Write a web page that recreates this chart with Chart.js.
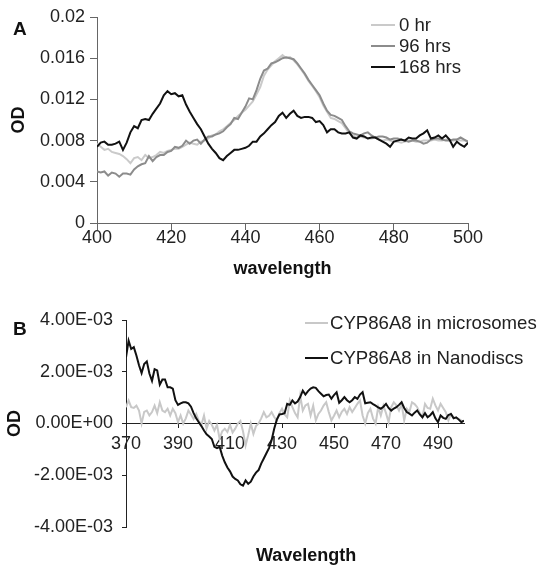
<!DOCTYPE html>
<html>
<head>
<meta charset="utf-8">
<script src="https://cdn.jsdelivr.net/npm/chart.js@4.4.1/dist/chart.umd.min.js"></script>
<style>
  body { margin: 0; background: #fff; }
  #wrap { position: relative; width: 539px; height: 566px; font-family: 'Liberation Sans', Arial, sans-serif; color: #111; overflow: hidden; }
  #wrap canvas { position: absolute; left: 0; }
  .panel { position: absolute; font-weight: bold; font-size: 19px; line-height: 20px; }
  .legend { position: absolute; font-size: 18.6px; color: #222; }
  .legend div { display: flex; align-items: center; white-space: nowrap; }
  .legend span { display: inline-block; height: 2px; }
  #legendA div { height: 21px; }
  #legendA span { width: 24px; margin-right: 4px; }
  #legendB div { height: 35px; }
  #legendB span { width: 23px; margin-right: 2px; }
  .xtitle { position: absolute; font-weight: bold; font-size: 18px; line-height: 21px; }
</style>
</head>
<body>
<div id="wrap">
  <canvas id="chartA" width="539" height="280" style="top:0"></canvas>
  <canvas id="chartB" width="539" height="286" style="top:280px"></canvas>
  <div class="panel" style="left:13px; top:19px">A</div>
  <div class="panel" style="left:13px; top:319px">B</div>
  <div class="legend" id="legendA" style="left:371px; top:14px"></div>
  <div class="legend" id="legendB" style="left:305px; top:305px"></div>
  <div class="xtitle" style="left:256px; top:545px">Wavelength</div>
</div>
<script>
// ---- panel A: OD spectra over time ----
const wavelengthsA = [
  400, 401, 402, 403, 404, 405, 406, 407, 408, 409, 410, 411, 412, 413, 414, 415, 416, 417, 418, 419,
  420, 421, 422, 423, 424, 425, 426, 427, 428, 429, 430, 431, 432, 433, 434, 435, 436, 437, 438, 439,
  440, 441, 442, 443, 444, 445, 446, 447, 448, 449, 450, 451, 452, 453, 454, 455, 456, 457, 458, 459,
  460, 461, 462, 463, 464, 465, 466, 467, 468, 469, 470, 471, 472, 473, 474, 475, 476, 477, 478, 479,
  480, 481, 482, 483, 484, 485, 486, 487, 488, 489, 490, 491, 492, 493, 494, 495, 496, 497, 498, 499, 500
];
const od0Hr = [
  .0077, .0074, .0071, .0072, .0069, .0068, .0067, .0065, .0062, .0058, .0063, .0064, .0061, .0066, .0063, .0064, .0066, .0069, .0068, .0070,
  .0071, .0072, .0072, .0074, .0076, .0078, .0077, .0076, .0079, .0080, .0082, .0085, .0086, .0089, .0091, .0094, .0097, .0100, .0104, .0107,
  .0110, .0114, .0118, .0125, .0132, .0143, .0149, .0153, .0157, .0160, .0163, .0160, .0161, .0158, .0154, .0149, .0144, .0138, .0133, .0128,
  .0122, .0114, .0108, .0102, .0101, .0099, .0097, .0092, .0087, .0085, .0083, .0084, .0083, .0082, .0082, .0083, .0081, .0080, .0081, .0080,
  .0079, .0079, .0078, .0079, .0080, .0080, .0079, .0079, .0080, .0080, .0080, .0081, .0080, .0080, .0081, .0081, .0080, .0081, .0080, .0080, .0079
];
const od96Hrs = [
  .0050, .0049, .0050, .0046, .0049, .0048, .0045, .0048, .0048, .0047, .0052, .0055, .0057, .0058, .0065, .0060, .0064, .0066, .0066, .0069,
  .0070, .0074, .0073, .0075, .0080, .0077, .0080, .0081, .0077, .0081, .0084, .0084, .0086, .0087, .0089, .0093, .0096, .0102, .0101, .0107,
  .0113, .0121, .0120, .0129, .0140, .0148, .0150, .0155, .0156, .0158, .0160, .0161, .0160, .0159, .0155, .0150, .0145, .0139, .0134, .0129,
  .0124, .0116, .0109, .0105, .0104, .0102, .0100, .0094, .0089, .0087, .0086, .0085, .0087, .0088, .0085, .0083, .0084, .0084, .0083, .0081,
  .0082, .0082, .0081, .0080, .0079, .0080, .0080, .0079, .0077, .0078, .0081, .0082, .0082, .0081, .0080, .0080, .0081, .0081, .0083, .0081, .0079
];
const od168Hrs = [
  .0074, .0078, .0079, .0076, .0076, .0077, .0079, .0071, .0078, .0088, .0094, .0092, .0100, .0101, .0100, .0106, .0111, .0116, .0124, .0128,
  .0125, .0126, .0123, .0124, .0115, .0108, .0102, .0096, .0091, .0084, .0077, .0072, .0068, .0063, .0061, .0065, .0068, .0071, .0071, .0072,
  .0073, .0075, .0079, .0079, .0084, .0087, .0091, .0095, .0098, .0104, .0107, .0102, .0106, .0109, .0104, .0102, .0103, .0103, .0102, .0098,
  .0099, .0095, .0088, .0091, .0091, .0088, .0087, .0087, .0088, .0083, .0082, .0085, .0084, .0082, .0083, .0083, .0081, .0079, .0077, .0074,
  .0079, .0080, .0081, .0080, .0083, .0082, .0082, .0085, .0087, .0090, .0082, .0083, .0085, .0082, .0085, .0081, .0074, .0079, .0076, .0074, .0078
];
const xTicksA = [400, 420, 440, 460, 480, 500];
const yTicksA = [0, 0.004, 0.008, 0.012, 0.016, 0.02];

// ---- panel B: difference spectra (values in units of 1E-03) ----
const wavelengthsB = [
  370, 371, 372, 373, 374, 375, 376, 377, 378, 379, 380, 381, 382, 383, 384, 385, 386, 387, 388, 389,
  390, 391, 392, 393, 394, 395, 396, 397, 398, 399, 400, 401, 402, 403, 404, 405, 406, 407, 408, 409,
  410, 411, 412, 413, 414, 415, 416, 417, 418, 419, 420, 421, 422, 423, 424, 425, 426, 427, 428, 429,
  430, 431, 432, 433, 434, 435, 436, 437, 438, 439, 440, 441, 442, 443, 444, 445, 446, 447, 448, 449,
  450, 451, 452, 453, 454, 455, 456, 457, 458, 459, 460, 461, 462, 463, 464, 465, 466, 467, 468, 469,
  470, 471, 472, 473, 474, 475, 476, 477, 478, 479, 480, 481, 482, 483, 484, 485, 486, 487, 488, 489,
  490, 491, 492, 493, 494, 495, 496, 497, 498, 499, 500
];
const microsomesE3 = [
  0.63, 0.89, 0.63, 0.60, 0.69, 0.50, 0.00, 0.45, 0.50, 0.31, 0.44, 0.69, 0.40, 0.82, 0.50, 0.44, 0.57, 0.31, 0.57, 0.40,
  0.05, 0.31, 0.00, 0.20, 0.50, 0.35, 0.18, 0.37, 0.10, -0.05, 0.31, -0.20, 0.10, -0.05, -0.27, -0.05, -0.59, -0.30, -0.20, -0.33,
  -0.05, -0.35, -0.20, 0.00, 0.10, -0.30, -0.85, -0.45, 0.00, -0.40, -0.10, 0.00, 0.20, 0.44, 0.24, 0.30, 0.44, 0.25, 0.12, 0.40,
  0.57, 0.35, 0.24, 0.89, 0.63, 0.40, 0.24, 1.08, 0.50, 0.70, 0.76, 0.31, 0.69, 0.12, 0.37, 0.50, 0.69, 0.82, 0.44, 0.12,
  0.30, 0.50, 0.24, 0.45, 0.57, 0.37, 0.63, 0.44, 0.60, 0.76, 0.89, 0.31, 0.00, 0.40, 0.57, 0.20, 0.00, 0.63, 0.31, 0.69,
  0.40, 0.05, 0.63, 0.82, 0.70, 0.50, 0.76, 0.12, 0.57, 0.45, 0.82, 0.75, 0.63, 0.40, 0.24, 0.76, 0.60, 0.57, 0.96, 0.70,
  0.50, 0.76, 0.60, 0.44, 0.12, 0.37, 0.24, 0.20, 0.18, 0.11, 0.10
];
const nanodiscsE3 = [
  2.56, 3.20, 2.88, 2.95, 2.63, 2.25, 1.95, 2.30, 2.40, 1.93, 1.65, 2.10, 2.05, 1.50, 1.70, 1.70, 1.40, 1.40, 1.35, 0.90,
  0.72, 0.78, 0.82, 0.82, 0.78, 0.65, 0.40, 0.20, 0.05, -0.10, -0.27, -0.42, -0.50, -0.60, -0.90, -0.95, -0.90, -1.24, -1.50, -1.70,
  -1.85, -2.05, -2.14, -2.20, -2.35, -2.40, -2.20, -2.33, -2.25, -2.05, -1.90, -1.80, -1.55, -1.35, -1.15, -0.95, -0.65, -0.20, 0.15, 0.35,
  0.37, 0.40, 0.76, 0.72, 0.89, 0.78, 0.85, 1.02, 1.27, 1.12, 1.25, 1.35, 1.40, 1.38, 1.25, 1.15, 1.05, 1.10, 1.12, 0.96,
  1.10, 1.21, 0.80, 0.90, 1.02, 0.90, 0.82, 0.90, 1.02, 0.95, 1.12, 1.21, 0.78, 0.80, 0.82, 0.75, 0.69, 0.62, 0.57, 0.65,
  0.76, 0.60, 0.50, 0.58, 0.63, 0.72, 0.82, 0.60, 0.44, 0.38, 0.31, 0.42, 0.50, 0.35, 0.24, 0.40, 0.24, 0.32, 0.44, 0.20,
  0.05, 0.31, 0.22, 0.18, 0.33, 0.37, 0.20, 0.24, 0.15, 0.05, 0.11
];
const xTicksB = [370, 390, 410, 430, 450, 470, 490];
const yTicksB = [-0.004, -0.002, 0, 0.002, 0.004];

const FONT = "'Liberation Sans', Arial, sans-serif";
Chart.defaults.font.family = FONT;
Chart.defaults.color = '#222';

function pairs(xs, ys, scale) {
  return xs.map((x, i) => ({ x: x, y: ys[i] * (scale || 1) }));
}

function sciLabel(v) {
  if (Math.abs(v) < 1e-12) return '0.00E+00';
  const parts = v.toExponential(2).split('e');
  const exp = parseInt(parts[1], 10);
  return parts[0] + 'E' + (exp < 0 ? '-' : '+') + String(Math.abs(exp)).padStart(2, '0');
}

function useTicks(values) {
  return scale => { scale.ticks = values.map(v => ({ value: v })); };
}

const baseOptions = {
  responsive: false,
  animation: false,
  devicePixelRatio: 1,
  elements: { point: { radius: 0 }, line: { borderWidth: 2, tension: 0 } },
  plugins: { legend: { display: false }, tooltip: { enabled: false } }
};

// panel A
new Chart(document.getElementById('chartA'), {
  type: 'line',
  data: {
    datasets: [
      { label: '0 hr', data: pairs(wavelengthsA, od0Hr), borderColor: '#cacaca', order: 2 },
      { label: '96 hrs', data: pairs(wavelengthsA, od96Hrs), borderColor: '#8c8c8c', order: 1 },
      { label: '168 hrs', data: pairs(wavelengthsA, od168Hrs), borderColor: '#111', order: 0 }
    ]
  },
  options: Object.assign({}, baseOptions, {
    layout: { padding: { top: 17, right: 71, bottom: 0, left: 0 } },
    scales: {
      x: {
        type: 'linear', min: 400, max: 500,
        afterBuildTicks: useTicks(xTicksA),
        afterFit: s => { s.height = 57; },
        ticks: { font: { size: 18 }, padding: -3, autoSkip: false, maxRotation: 0 },
        grid: { drawOnChartArea: false, tickLength: 7, color: '#666' },
        border: { color: '#666' },
        title: { display: true, text: 'wavelength', color: '#111', font: { size: 18, weight: 'bold' }, padding: { top: 0, bottom: 0 } }
      },
      y: {
        min: 0, max: 0.02,
        afterBuildTicks: useTicks(yTicksA),
        afterFit: s => { s.width = 97; },
        ticks: { font: { size: 18 }, padding: 5, callback: v => String(+v.toFixed(3)) },
        grid: { drawOnChartArea: false, tickLength: 7, color: '#666' },
        border: { color: '#666' },
        title: { display: true, text: 'OD', color: '#111', font: { size: 18, weight: 'bold' }, padding: { top: 8, bottom: 0 } }
      }
    }
  })
});

// panel B
new Chart(document.getElementById('chartB'), {
  type: 'line',
  data: {
    datasets: [
      { label: 'CYP86A8 in microsomes', data: pairs(wavelengthsB, microsomesE3, 1e-3), borderColor: '#c8c8c8', order: 1 },
      { label: 'CYP86A8 in Nanodiscs', data: pairs(wavelengthsB, nanodiscsE3, 1e-3), borderColor: '#111', order: 0 }
    ]
  },
  options: Object.assign({}, baseOptions, {
    layout: { padding: { top: 40, right: 75, bottom: 39, left: 0 } },
    scales: {
      x: {
        type: 'linear', min: 370, max: 500, position: { y: 0 },
        afterBuildTicks: useTicks(xTicksB),
        ticks: { font: { size: 18 }, padding: 6, autoSkip: false, maxRotation: 0 },
        grid: { drawOnChartArea: false, tickLength: 4, color: '#222' },
        border: { color: '#222' }
      },
      y: {
        min: -0.004, max: 0.004,
        afterBuildTicks: useTicks(yTicksB),
        afterFit: s => { s.width = 126; },
        ticks: { font: { size: 18 }, padding: 9, callback: v => sciLabel(v) },
        grid: { drawOnChartArea: false, tickLength: 4, color: '#222' },
        border: { color: '#222' },
        title: { display: true, text: 'OD', color: '#111', font: { size: 18, weight: 'bold' }, padding: { top: 4, bottom: 0 } }
      }
    }
  })
});

// legends, drawn as html so they sit where the figure has them
function buildLegend(id, items) {
  const box = document.getElementById(id);
  items.forEach(item => {
    const row = document.createElement('div');
    const swatch = document.createElement('span');
    swatch.style.background = item.color;
    row.appendChild(swatch);
    row.appendChild(document.createTextNode(item.label));
    box.appendChild(row);
  });
}
buildLegend('legendA', [
  { label: '0 hr', color: '#cacaca' },
  { label: '96 hrs', color: '#8c8c8c' },
  { label: '168 hrs', color: '#111' }
]);
buildLegend('legendB', [
  { label: 'CYP86A8 in microsomes', color: '#c8c8c8' },
  { label: 'CYP86A8 in Nanodiscs', color: '#111' }
]);
</script>
</body>
</html>
